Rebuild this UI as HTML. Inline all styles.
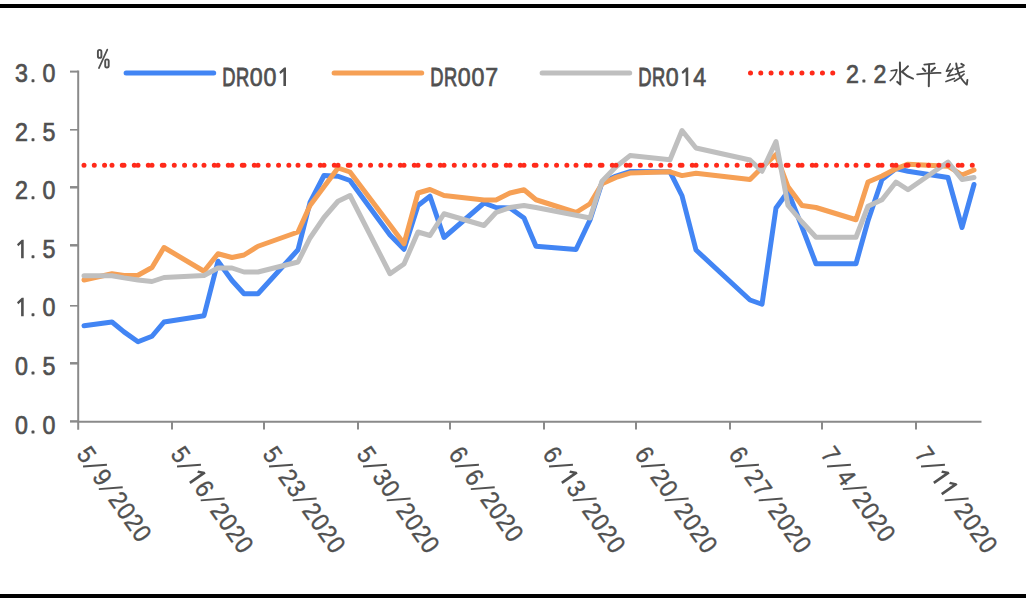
<!DOCTYPE html>
<html><head><meta charset="utf-8"><title>chart</title>
<style>
html,body{margin:0;padding:0;background:#fff;}
body{width:1026px;height:604px;overflow:hidden;font-family:"Liberation Sans",sans-serif;}
svg{display:block;}
text{font-family:"Liberation Sans",sans-serif;}
</style></head><body>
<svg width="1026" height="604" viewBox="0 0 1026 604">
<rect x="0" y="0" width="1026" height="604" fill="#ffffff"/>

<rect x="0" y="4" width="1026" height="4" fill="#000"/>
<rect x="0" y="594" width="1026" height="4" fill="#000"/>
<g stroke="#8a8a8a" stroke-width="2" fill="none">
<line x1="78.2" y1="70.6" x2="78.2" y2="429.7"/>
<line x1="77.2" y1="421.7" x2="981.5" y2="421.7"/>
<line x1="70" y1="363.3" x2="78.2" y2="363.3" stroke-width="2.5"/>
<line x1="70" y1="305.8" x2="78.2" y2="305.8" stroke-width="1.6"/>
<line x1="70" y1="245.3" x2="78.2" y2="245.3" stroke-width="2.5"/>
<line x1="70" y1="187.3" x2="78.2" y2="187.3" stroke-width="2.5"/>
<line x1="70" y1="129.8" x2="78.2" y2="129.8" stroke-width="1.6"/>
<line x1="70" y1="71.6" x2="78.2" y2="71.6" stroke-width="2"/>
<line x1="70" y1="421.4" x2="78.2" y2="421.4" stroke-width="2.4"/>
<line x1="172.00" y1="421.7" x2="172.00" y2="429.5"/>
<line x1="264.00" y1="421.7" x2="264.00" y2="429.5"/>
<line x1="358.00" y1="421.7" x2="358.00" y2="429.5"/>
<line x1="450.00" y1="421.7" x2="450.00" y2="429.5"/>
<line x1="544.00" y1="421.7" x2="544.00" y2="429.5"/>
<line x1="636.00" y1="421.7" x2="636.00" y2="429.5"/>
<line x1="730.00" y1="421.7" x2="730.00" y2="429.5"/>
<line x1="822.00" y1="421.7" x2="822.00" y2="429.5"/>
<line x1="916.00" y1="421.7" x2="916.00" y2="429.5"/>
</g>
<text transform="translate(21.48,433.5) scale(0.91,1)" font-size="25.5" fill="#505050" stroke="#505050" stroke-width="0.7" text-anchor="middle">0</text>
<rect x="31.55" y="430.6" width="2.9" height="2.9" rx="0.6" fill="#505050"/>
<text transform="translate(48.98,433.5) scale(0.91,1)" font-size="25.5" fill="#505050" stroke="#505050" stroke-width="0.7" text-anchor="middle">0</text>
<text transform="translate(21.48,374.5) scale(0.91,1)" font-size="25.5" fill="#505050" stroke="#505050" stroke-width="0.7" text-anchor="middle">0</text>
<rect x="31.55" y="371.6" width="2.9" height="2.9" rx="0.6" fill="#505050"/>
<text transform="translate(48.98,374.5) scale(0.91,1)" font-size="25.5" fill="#505050" stroke="#505050" stroke-width="0.7" text-anchor="middle">5</text>
<path transform="translate(14.60,316.2)" d="M9.1,0V-18.4H7.2L2.4,-13.9L3.6,-11.9L6.5,-14.4V0Z" fill="#505050"/>
<rect x="31.55" y="313.3" width="2.9" height="2.9" rx="0.6" fill="#505050"/>
<text transform="translate(48.98,316.2) scale(0.91,1)" font-size="25.5" fill="#505050" stroke="#505050" stroke-width="0.7" text-anchor="middle">0</text>
<path transform="translate(14.60,258.2)" d="M9.1,0V-18.4H7.2L2.4,-13.9L3.6,-11.9L6.5,-14.4V0Z" fill="#505050"/>
<rect x="31.55" y="255.29999999999998" width="2.9" height="2.9" rx="0.6" fill="#505050"/>
<text transform="translate(48.98,258.2) scale(0.91,1)" font-size="25.5" fill="#505050" stroke="#505050" stroke-width="0.7" text-anchor="middle">5</text>
<text transform="translate(21.48,199.2) scale(0.91,1)" font-size="25.5" fill="#505050" stroke="#505050" stroke-width="0.7" text-anchor="middle">2</text>
<rect x="31.55" y="196.29999999999998" width="2.9" height="2.9" rx="0.6" fill="#505050"/>
<text transform="translate(48.98,199.2) scale(0.91,1)" font-size="25.5" fill="#505050" stroke="#505050" stroke-width="0.7" text-anchor="middle">0</text>
<text transform="translate(21.48,141.2) scale(0.91,1)" font-size="25.5" fill="#505050" stroke="#505050" stroke-width="0.7" text-anchor="middle">2</text>
<rect x="31.55" y="138.29999999999998" width="2.9" height="2.9" rx="0.6" fill="#505050"/>
<text transform="translate(48.98,141.2) scale(0.91,1)" font-size="25.5" fill="#505050" stroke="#505050" stroke-width="0.7" text-anchor="middle">5</text>
<text transform="translate(21.48,82.2) scale(0.91,1)" font-size="25.5" fill="#505050" stroke="#505050" stroke-width="0.7" text-anchor="middle">3</text>
<rect x="31.55" y="79.3" width="2.9" height="2.9" rx="0.6" fill="#505050"/>
<text transform="translate(48.98,82.2) scale(0.91,1)" font-size="25.5" fill="#505050" stroke="#505050" stroke-width="0.7" text-anchor="middle">0</text>
<polyline points="84.00,325.75 112.00,322.00 124.00,331.90 138.00,341.75 152.00,336.25 164.00,322.00 204.00,315.75 218.00,261.25 232.00,280.50 244.00,293.75 258.00,293.75 298.00,249.75 310.00,202.50 324.00,175.50 338.00,176.25 350.00,180.50 390.00,235.00 404.00,249.25 418.00,205.50 430.00,196.25 444.00,237.50 484.00,203.00 496.00,207.50 510.00,208.00 524.00,218.00 536.00,246.25 576.00,249.50 590.00,220.00 602.00,182.50 616.00,176.10 630.00,171.60 670.00,171.80 682.00,195.75 696.00,250.00 750.00,300.00 762.00,304.25 776.00,208.00 788.00,191.50 802.00,227.00 816.00,263.75 856.00,263.75 868.00,220.75 882.00,179.50 896.00,168.50 908.00,171.25 948.00,177.50 962.00,227.50 974.00,184.50" fill="none" stroke="#4285F4" stroke-width="5" stroke-linejoin="round" stroke-linecap="round"/>
<polyline points="84.00,280.00 112.00,273.75 124.00,275.50 138.00,275.20 152.00,267.50 164.00,247.50 204.00,271.25 218.00,253.75 232.00,257.50 244.00,255.00 258.00,246.25 298.00,232.00 310.00,205.50 324.00,186.75 338.00,168.00 350.00,172.00 390.00,225.00 404.00,243.75 418.00,193.00 430.00,189.50 444.00,195.50 484.00,200.00 496.00,200.00 510.00,193.00 524.00,189.75 536.00,199.75 576.00,212.50 590.00,203.75 602.00,183.70 616.00,177.40 630.00,173.10 670.00,171.80 682.00,175.60 696.00,173.30 750.00,179.50 762.00,167.50 776.00,154.50 788.00,186.75 802.00,205.60 816.00,207.50 856.00,219.75 868.00,182.00 882.00,176.00 896.00,168.75 908.00,164.20 948.00,166.20 962.00,175.00 974.00,170.00" fill="none" stroke="#F6A055" stroke-width="5" stroke-linejoin="round" stroke-linecap="round"/>
<polyline points="84.00,275.75 112.00,275.75 124.00,277.90 138.00,280.00 152.00,281.50 164.00,277.50 204.00,275.50 218.00,268.00 232.00,268.00 244.00,272.00 258.00,272.00 298.00,262.00 310.00,238.00 324.00,217.50 338.00,201.25 350.00,195.50 390.00,273.75 404.00,264.00 418.00,232.00 430.00,235.50 444.00,213.75 484.00,225.50 496.00,212.50 510.00,207.50 524.00,205.50 536.00,207.50 576.00,215.25 590.00,218.00 602.00,181.20 616.00,166.80 630.00,155.60 670.00,159.70 682.00,130.50 696.00,148.00 750.00,160.00 762.00,171.25 776.00,141.50 788.00,205.50 802.00,222.00 816.00,237.25 856.00,237.25 868.00,206.25 882.00,199.75 896.00,182.00 908.00,189.75 948.00,162.00 962.00,179.50 974.00,177.50" fill="none" stroke="#BFBFBF" stroke-width="5" stroke-linejoin="round" stroke-linecap="round"/>
<path d="M84.00,165.3H112.00 M112.00,165.3H124.00 M124.00,165.3H138.00 M138.00,165.3H152.00 M152.00,165.3H164.00 M164.00,165.3H204.00 M204.00,165.3H218.00 M218.00,165.3H232.00 M232.00,165.3H244.00 M244.00,165.3H258.00 M258.00,165.3H298.00 M298.00,165.3H310.00 M310.00,165.3H324.00 M324.00,165.3H338.00 M338.00,165.3H350.00 M350.00,165.3H390.00 M390.00,165.3H404.00 M404.00,165.3H418.00 M418.00,165.3H430.00 M430.00,165.3H444.00 M444.00,165.3H484.00 M484.00,165.3H496.00 M496.00,165.3H510.00 M510.00,165.3H524.00 M524.00,165.3H536.00 M536.00,165.3H576.00 M576.00,165.3H590.00 M590.00,165.3H602.00 M602.00,165.3H616.00 M616.00,165.3H630.00 M630.00,165.3H670.00 M670.00,165.3H682.00 M682.00,165.3H696.00 M696.00,165.3H750.00 M750.00,165.3H762.00 M762.00,165.3H776.00 M776.00,165.3H788.00 M788.00,165.3H802.00 M802.00,165.3H816.00 M816.00,165.3H856.00 M856.00,165.3H868.00 M868.00,165.3H882.00 M882.00,165.3H896.00 M896.00,165.3H908.00 M908.00,165.3H948.00 M948.00,165.3H962.00 M962.00,165.3H974.00" fill="none" stroke="#FF2A1A" stroke-width="5" stroke-linecap="round" stroke-dasharray="0.01 10.27"/>
<line x1="126.1" y1="73.0" x2="213.7" y2="73.0" stroke="#4285F4" stroke-width="5" stroke-linecap="round"/>
<line x1="334.1" y1="73.0" x2="421.70000000000005" y2="73.0" stroke="#F6A055" stroke-width="5" stroke-linecap="round"/>
<line x1="542.1" y1="73.0" x2="629.7" y2="73.0" stroke="#BFBFBF" stroke-width="5" stroke-linecap="round"/>
<path d="M750.5,73.0H840.5" fill="none" stroke="#FF2A1A" stroke-width="5" stroke-linecap="round" stroke-dasharray="0.01 10.27"/>
<text transform="translate(228.78,86) scale(0.72,1)" font-size="25.5" fill="#505050" stroke="#505050" stroke-width="0.9" text-anchor="middle">D</text>
<text transform="translate(242.53,86) scale(0.72,1)" font-size="25.5" fill="#505050" stroke="#505050" stroke-width="0.9" text-anchor="middle">R</text>
<text transform="translate(256.27,86) scale(0.91,1)" font-size="25.5" fill="#505050" stroke="#505050" stroke-width="0.7" text-anchor="middle">0</text>
<text transform="translate(270.02,86) scale(0.91,1)" font-size="25.5" fill="#505050" stroke="#505050" stroke-width="0.7" text-anchor="middle">0</text>
<path transform="translate(276.90,86)" d="M9.1,0V-18.4H7.2L2.4,-13.9L3.6,-11.9L6.5,-14.4V0Z" fill="#505050"/>
<text transform="translate(436.77,86) scale(0.72,1)" font-size="25.5" fill="#505050" stroke="#505050" stroke-width="0.9" text-anchor="middle">D</text>
<text transform="translate(450.52,86) scale(0.72,1)" font-size="25.5" fill="#505050" stroke="#505050" stroke-width="0.9" text-anchor="middle">R</text>
<text transform="translate(464.27,86) scale(0.91,1)" font-size="25.5" fill="#505050" stroke="#505050" stroke-width="0.7" text-anchor="middle">0</text>
<text transform="translate(478.02,86) scale(0.91,1)" font-size="25.5" fill="#505050" stroke="#505050" stroke-width="0.7" text-anchor="middle">0</text>
<text transform="translate(491.77,86) scale(0.91,1)" font-size="25.5" fill="#505050" stroke="#505050" stroke-width="0.7" text-anchor="middle">7</text>
<text transform="translate(644.77,86) scale(0.72,1)" font-size="25.5" fill="#505050" stroke="#505050" stroke-width="0.9" text-anchor="middle">D</text>
<text transform="translate(658.52,86) scale(0.72,1)" font-size="25.5" fill="#505050" stroke="#505050" stroke-width="0.9" text-anchor="middle">R</text>
<text transform="translate(672.27,86) scale(0.91,1)" font-size="25.5" fill="#505050" stroke="#505050" stroke-width="0.7" text-anchor="middle">0</text>
<path transform="translate(679.15,86)" d="M9.1,0V-18.4H7.2L2.4,-13.9L3.6,-11.9L6.5,-14.4V0Z" fill="#505050"/>
<text transform="translate(699.77,86) scale(0.91,1)" font-size="25.5" fill="#505050" stroke="#505050" stroke-width="0.7" text-anchor="middle">4</text>
<text transform="translate(852.38,82.5) scale(0.91,1)" font-size="25.5" fill="#505050" stroke="#505050" stroke-width="0.7" text-anchor="middle">2</text>
<rect x="862.45" y="79.6" width="2.9" height="2.9" rx="0.6" fill="#505050"/>
<text transform="translate(879.88,82.5) scale(0.91,1)" font-size="25.5" fill="#505050" stroke="#505050" stroke-width="0.7" text-anchor="middle">2</text>
<g fill="none" stroke="#505050" stroke-linecap="round">
<rect x="97.9" y="49.9" width="3.5" height="8.0" rx="1.75" stroke-width="1.9"/>
<rect x="105.2" y="59.4" width="3.5" height="8.2" rx="1.75" stroke-width="1.9"/>
<line x1="107.3" y1="49.6" x2="98.9" y2="68.1" stroke-width="1.7"/>
</g>
<g transform="translate(75.60,454) rotate(55)">
<text transform="translate(6.88,0) scale(0.91,1)" font-size="25.5" fill="#505050" stroke="#505050" stroke-width="0.35" text-anchor="middle">5</text>
<line x1="14.55" y1="1.1" x2="26.75" y2="-19.5" stroke="#505050" stroke-width="1.9"/>
<text transform="translate(34.38,0) scale(0.91,1)" font-size="25.5" fill="#505050" stroke="#505050" stroke-width="0.35" text-anchor="middle">9</text>
<line x1="42.05" y1="1.1" x2="54.25" y2="-19.5" stroke="#505050" stroke-width="1.9"/>
<text transform="translate(61.88,0) scale(0.91,1)" font-size="25.5" fill="#505050" stroke="#505050" stroke-width="0.35" text-anchor="middle">2</text>
<text transform="translate(75.62,0) scale(0.91,1)" font-size="25.5" fill="#505050" stroke="#505050" stroke-width="0.35" text-anchor="middle">0</text>
<text transform="translate(89.38,0) scale(0.91,1)" font-size="25.5" fill="#505050" stroke="#505050" stroke-width="0.35" text-anchor="middle">2</text>
<text transform="translate(103.12,0) scale(0.91,1)" font-size="25.5" fill="#505050" stroke="#505050" stroke-width="0.35" text-anchor="middle">0</text>
</g>
<g transform="translate(169.60,454) rotate(55)">
<text transform="translate(6.88,0) scale(0.91,1)" font-size="25.5" fill="#505050" stroke="#505050" stroke-width="0.35" text-anchor="middle">5</text>
<line x1="14.55" y1="1.1" x2="26.75" y2="-19.5" stroke="#505050" stroke-width="1.9"/>
<path transform="translate(27.50,0)" d="M9.1,0V-18.4H7.2L2.4,-13.9L3.6,-11.9L6.5,-14.4V0Z" fill="#505050"/>
<text transform="translate(48.12,0) scale(0.91,1)" font-size="25.5" fill="#505050" stroke="#505050" stroke-width="0.35" text-anchor="middle">6</text>
<line x1="55.80" y1="1.1" x2="68.00" y2="-19.5" stroke="#505050" stroke-width="1.9"/>
<text transform="translate(75.62,0) scale(0.91,1)" font-size="25.5" fill="#505050" stroke="#505050" stroke-width="0.35" text-anchor="middle">2</text>
<text transform="translate(89.38,0) scale(0.91,1)" font-size="25.5" fill="#505050" stroke="#505050" stroke-width="0.35" text-anchor="middle">0</text>
<text transform="translate(103.12,0) scale(0.91,1)" font-size="25.5" fill="#505050" stroke="#505050" stroke-width="0.35" text-anchor="middle">2</text>
<text transform="translate(116.88,0) scale(0.91,1)" font-size="25.5" fill="#505050" stroke="#505050" stroke-width="0.35" text-anchor="middle">0</text>
</g>
<g transform="translate(261.60,454) rotate(55)">
<text transform="translate(6.88,0) scale(0.91,1)" font-size="25.5" fill="#505050" stroke="#505050" stroke-width="0.35" text-anchor="middle">5</text>
<line x1="14.55" y1="1.1" x2="26.75" y2="-19.5" stroke="#505050" stroke-width="1.9"/>
<text transform="translate(34.38,0) scale(0.91,1)" font-size="25.5" fill="#505050" stroke="#505050" stroke-width="0.35" text-anchor="middle">2</text>
<text transform="translate(48.12,0) scale(0.91,1)" font-size="25.5" fill="#505050" stroke="#505050" stroke-width="0.35" text-anchor="middle">3</text>
<line x1="55.80" y1="1.1" x2="68.00" y2="-19.5" stroke="#505050" stroke-width="1.9"/>
<text transform="translate(75.62,0) scale(0.91,1)" font-size="25.5" fill="#505050" stroke="#505050" stroke-width="0.35" text-anchor="middle">2</text>
<text transform="translate(89.38,0) scale(0.91,1)" font-size="25.5" fill="#505050" stroke="#505050" stroke-width="0.35" text-anchor="middle">0</text>
<text transform="translate(103.12,0) scale(0.91,1)" font-size="25.5" fill="#505050" stroke="#505050" stroke-width="0.35" text-anchor="middle">2</text>
<text transform="translate(116.88,0) scale(0.91,1)" font-size="25.5" fill="#505050" stroke="#505050" stroke-width="0.35" text-anchor="middle">0</text>
</g>
<g transform="translate(355.60,454) rotate(55)">
<text transform="translate(6.88,0) scale(0.91,1)" font-size="25.5" fill="#505050" stroke="#505050" stroke-width="0.35" text-anchor="middle">5</text>
<line x1="14.55" y1="1.1" x2="26.75" y2="-19.5" stroke="#505050" stroke-width="1.9"/>
<text transform="translate(34.38,0) scale(0.91,1)" font-size="25.5" fill="#505050" stroke="#505050" stroke-width="0.35" text-anchor="middle">3</text>
<text transform="translate(48.12,0) scale(0.91,1)" font-size="25.5" fill="#505050" stroke="#505050" stroke-width="0.35" text-anchor="middle">0</text>
<line x1="55.80" y1="1.1" x2="68.00" y2="-19.5" stroke="#505050" stroke-width="1.9"/>
<text transform="translate(75.62,0) scale(0.91,1)" font-size="25.5" fill="#505050" stroke="#505050" stroke-width="0.35" text-anchor="middle">2</text>
<text transform="translate(89.38,0) scale(0.91,1)" font-size="25.5" fill="#505050" stroke="#505050" stroke-width="0.35" text-anchor="middle">0</text>
<text transform="translate(103.12,0) scale(0.91,1)" font-size="25.5" fill="#505050" stroke="#505050" stroke-width="0.35" text-anchor="middle">2</text>
<text transform="translate(116.88,0) scale(0.91,1)" font-size="25.5" fill="#505050" stroke="#505050" stroke-width="0.35" text-anchor="middle">0</text>
</g>
<g transform="translate(447.60,454) rotate(55)">
<text transform="translate(6.88,0) scale(0.91,1)" font-size="25.5" fill="#505050" stroke="#505050" stroke-width="0.35" text-anchor="middle">6</text>
<line x1="14.55" y1="1.1" x2="26.75" y2="-19.5" stroke="#505050" stroke-width="1.9"/>
<text transform="translate(34.38,0) scale(0.91,1)" font-size="25.5" fill="#505050" stroke="#505050" stroke-width="0.35" text-anchor="middle">6</text>
<line x1="42.05" y1="1.1" x2="54.25" y2="-19.5" stroke="#505050" stroke-width="1.9"/>
<text transform="translate(61.88,0) scale(0.91,1)" font-size="25.5" fill="#505050" stroke="#505050" stroke-width="0.35" text-anchor="middle">2</text>
<text transform="translate(75.62,0) scale(0.91,1)" font-size="25.5" fill="#505050" stroke="#505050" stroke-width="0.35" text-anchor="middle">0</text>
<text transform="translate(89.38,0) scale(0.91,1)" font-size="25.5" fill="#505050" stroke="#505050" stroke-width="0.35" text-anchor="middle">2</text>
<text transform="translate(103.12,0) scale(0.91,1)" font-size="25.5" fill="#505050" stroke="#505050" stroke-width="0.35" text-anchor="middle">0</text>
</g>
<g transform="translate(541.60,454) rotate(55)">
<text transform="translate(6.88,0) scale(0.91,1)" font-size="25.5" fill="#505050" stroke="#505050" stroke-width="0.35" text-anchor="middle">6</text>
<line x1="14.55" y1="1.1" x2="26.75" y2="-19.5" stroke="#505050" stroke-width="1.9"/>
<path transform="translate(27.50,0)" d="M9.1,0V-18.4H7.2L2.4,-13.9L3.6,-11.9L6.5,-14.4V0Z" fill="#505050"/>
<text transform="translate(48.12,0) scale(0.91,1)" font-size="25.5" fill="#505050" stroke="#505050" stroke-width="0.35" text-anchor="middle">3</text>
<line x1="55.80" y1="1.1" x2="68.00" y2="-19.5" stroke="#505050" stroke-width="1.9"/>
<text transform="translate(75.62,0) scale(0.91,1)" font-size="25.5" fill="#505050" stroke="#505050" stroke-width="0.35" text-anchor="middle">2</text>
<text transform="translate(89.38,0) scale(0.91,1)" font-size="25.5" fill="#505050" stroke="#505050" stroke-width="0.35" text-anchor="middle">0</text>
<text transform="translate(103.12,0) scale(0.91,1)" font-size="25.5" fill="#505050" stroke="#505050" stroke-width="0.35" text-anchor="middle">2</text>
<text transform="translate(116.88,0) scale(0.91,1)" font-size="25.5" fill="#505050" stroke="#505050" stroke-width="0.35" text-anchor="middle">0</text>
</g>
<g transform="translate(633.60,454) rotate(55)">
<text transform="translate(6.88,0) scale(0.91,1)" font-size="25.5" fill="#505050" stroke="#505050" stroke-width="0.35" text-anchor="middle">6</text>
<line x1="14.55" y1="1.1" x2="26.75" y2="-19.5" stroke="#505050" stroke-width="1.9"/>
<text transform="translate(34.38,0) scale(0.91,1)" font-size="25.5" fill="#505050" stroke="#505050" stroke-width="0.35" text-anchor="middle">2</text>
<text transform="translate(48.12,0) scale(0.91,1)" font-size="25.5" fill="#505050" stroke="#505050" stroke-width="0.35" text-anchor="middle">0</text>
<line x1="55.80" y1="1.1" x2="68.00" y2="-19.5" stroke="#505050" stroke-width="1.9"/>
<text transform="translate(75.62,0) scale(0.91,1)" font-size="25.5" fill="#505050" stroke="#505050" stroke-width="0.35" text-anchor="middle">2</text>
<text transform="translate(89.38,0) scale(0.91,1)" font-size="25.5" fill="#505050" stroke="#505050" stroke-width="0.35" text-anchor="middle">0</text>
<text transform="translate(103.12,0) scale(0.91,1)" font-size="25.5" fill="#505050" stroke="#505050" stroke-width="0.35" text-anchor="middle">2</text>
<text transform="translate(116.88,0) scale(0.91,1)" font-size="25.5" fill="#505050" stroke="#505050" stroke-width="0.35" text-anchor="middle">0</text>
</g>
<g transform="translate(727.60,454) rotate(55)">
<text transform="translate(6.88,0) scale(0.91,1)" font-size="25.5" fill="#505050" stroke="#505050" stroke-width="0.35" text-anchor="middle">6</text>
<line x1="14.55" y1="1.1" x2="26.75" y2="-19.5" stroke="#505050" stroke-width="1.9"/>
<text transform="translate(34.38,0) scale(0.91,1)" font-size="25.5" fill="#505050" stroke="#505050" stroke-width="0.35" text-anchor="middle">2</text>
<text transform="translate(48.12,0) scale(0.91,1)" font-size="25.5" fill="#505050" stroke="#505050" stroke-width="0.35" text-anchor="middle">7</text>
<line x1="55.80" y1="1.1" x2="68.00" y2="-19.5" stroke="#505050" stroke-width="1.9"/>
<text transform="translate(75.62,0) scale(0.91,1)" font-size="25.5" fill="#505050" stroke="#505050" stroke-width="0.35" text-anchor="middle">2</text>
<text transform="translate(89.38,0) scale(0.91,1)" font-size="25.5" fill="#505050" stroke="#505050" stroke-width="0.35" text-anchor="middle">0</text>
<text transform="translate(103.12,0) scale(0.91,1)" font-size="25.5" fill="#505050" stroke="#505050" stroke-width="0.35" text-anchor="middle">2</text>
<text transform="translate(116.88,0) scale(0.91,1)" font-size="25.5" fill="#505050" stroke="#505050" stroke-width="0.35" text-anchor="middle">0</text>
</g>
<g transform="translate(819.60,454) rotate(55)">
<text transform="translate(6.88,0) scale(0.91,1)" font-size="25.5" fill="#505050" stroke="#505050" stroke-width="0.35" text-anchor="middle">7</text>
<line x1="14.55" y1="1.1" x2="26.75" y2="-19.5" stroke="#505050" stroke-width="1.9"/>
<text transform="translate(34.38,0) scale(0.91,1)" font-size="25.5" fill="#505050" stroke="#505050" stroke-width="0.35" text-anchor="middle">4</text>
<line x1="42.05" y1="1.1" x2="54.25" y2="-19.5" stroke="#505050" stroke-width="1.9"/>
<text transform="translate(61.88,0) scale(0.91,1)" font-size="25.5" fill="#505050" stroke="#505050" stroke-width="0.35" text-anchor="middle">2</text>
<text transform="translate(75.62,0) scale(0.91,1)" font-size="25.5" fill="#505050" stroke="#505050" stroke-width="0.35" text-anchor="middle">0</text>
<text transform="translate(89.38,0) scale(0.91,1)" font-size="25.5" fill="#505050" stroke="#505050" stroke-width="0.35" text-anchor="middle">2</text>
<text transform="translate(103.12,0) scale(0.91,1)" font-size="25.5" fill="#505050" stroke="#505050" stroke-width="0.35" text-anchor="middle">0</text>
</g>
<g transform="translate(913.60,454) rotate(55)">
<text transform="translate(6.88,0) scale(0.91,1)" font-size="25.5" fill="#505050" stroke="#505050" stroke-width="0.35" text-anchor="middle">7</text>
<line x1="14.55" y1="1.1" x2="26.75" y2="-19.5" stroke="#505050" stroke-width="1.9"/>
<path transform="translate(27.50,0)" d="M9.1,0V-18.4H7.2L2.4,-13.9L3.6,-11.9L6.5,-14.4V0Z" fill="#505050"/>
<path transform="translate(41.25,0)" d="M9.1,0V-18.4H7.2L2.4,-13.9L3.6,-11.9L6.5,-14.4V0Z" fill="#505050"/>
<line x1="55.80" y1="1.1" x2="68.00" y2="-19.5" stroke="#505050" stroke-width="1.9"/>
<text transform="translate(75.62,0) scale(0.91,1)" font-size="25.5" fill="#505050" stroke="#505050" stroke-width="0.35" text-anchor="middle">2</text>
<text transform="translate(89.38,0) scale(0.91,1)" font-size="25.5" fill="#505050" stroke="#505050" stroke-width="0.35" text-anchor="middle">0</text>
<text transform="translate(103.12,0) scale(0.91,1)" font-size="25.5" fill="#505050" stroke="#505050" stroke-width="0.35" text-anchor="middle">2</text>
<text transform="translate(116.88,0) scale(0.91,1)" font-size="25.5" fill="#505050" stroke="#505050" stroke-width="0.35" text-anchor="middle">0</text>
</g>
<g id="cjk" fill="none" stroke="#4a4a4a" stroke-linecap="round" stroke-linejoin="round">
<!-- shui -->
<path d="M899.9,62.6 L900.3,84.6 L897.2,81.8" stroke-width="2.0"/>
<path d="M891.2,70.8 L896.9,69.9 Q895.6,76.5 890.2,80.6" stroke-width="1.6"/>
<path d="M908,66.2 Q905,69.5 902.2,71.6" stroke-width="2.0"/>
<path d="M902,71.8 Q906.5,76.5 913,78.6" stroke-width="2.0"/>
<!-- ping -->
<path d="M924.3,64.7 L934.5,63.7" stroke-width="1.8"/>
<path d="M922.8,68.5 L925.2,71" stroke-width="2.1"/>
<path d="M935,67.7 L931.4,71.3" stroke-width="2.0"/>
<path d="M917.2,74.4 Q929,72.6 940.5,72.9" stroke-width="1.9"/>
<path d="M929.1,64.6 L928.8,86.3" stroke-width="2.0"/>
<!-- xian -->
<path d="M950.2,63.8 L946.4,71.3 L950.6,70.4" stroke-width="1.6"/>
<path d="M953,68.3 L947.5,76.1 L953.2,74.8" stroke-width="1.6"/>
<path d="M946,81.5 L954.3,78.5" stroke-width="1.8"/>
<path d="M955.3,69.2 L963,66.8" stroke-width="1.6"/>
<path d="M954.9,74.4 L964.1,71.3" stroke-width="1.6"/>
<path d="M956.2,63.5 Q957.5,73 961,78 T966.8,84.6 L967.4,80" stroke-width="1.9"/>
<path d="M964.1,74 Q960,78.5 954.4,81.2" stroke-width="1.6"/>
<path d="M961.3,63.8 L963.8,65.3" stroke-width="2.0"/>
</g>
</svg></body></html>
